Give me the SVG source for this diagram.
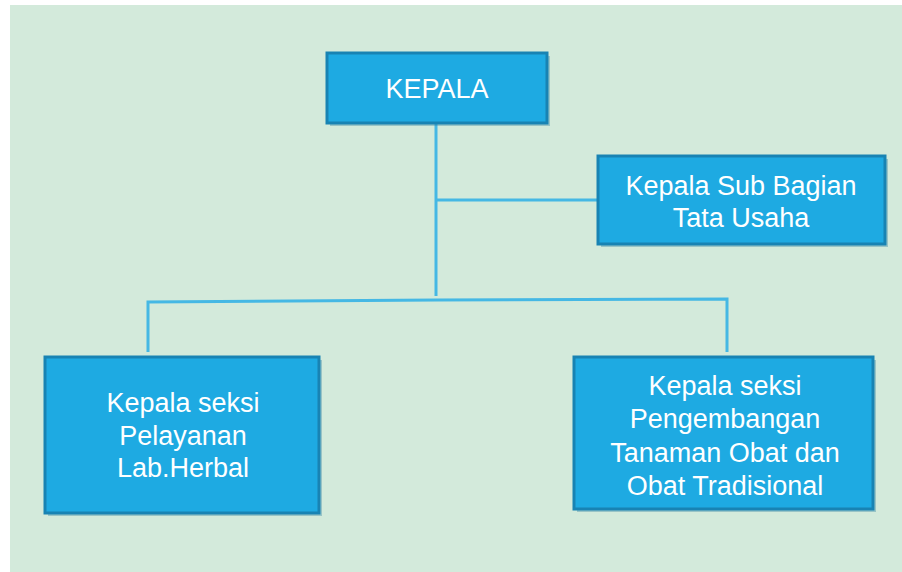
<svg xmlns="http://www.w3.org/2000/svg" width="902" height="572" viewBox="0 0 902 572">
<defs>
<style>
.box{fill:#1eaae2;stroke:#1883b3;stroke-width:3}
.shadow{fill:#2a7fa0;opacity:0.35}
.t{font-family:"Liberation Sans",Arial,sans-serif;font-size:27px;fill:#ffffff;text-anchor:middle}
.c{stroke:#45b8e4;stroke-width:3;fill:none}
</style>
</defs>
<rect x="0" y="0" width="902" height="572" fill="#ffffff"/>
<rect x="10" y="5" width="892" height="567" fill="#d3eadb"/>
<g id="connectors">
<line class="c" x1="436" y1="123" x2="436" y2="296"/>
<line class="c" x1="436" y1="200" x2="598" y2="200"/>
<polyline class="c" points="148,352 148,302 437,300 727,299 727,352"/>
</g>
<g id="kepala">
<rect class="shadow" x="330" y="56" width="220" height="70"/>
<rect class="box" x="327" y="53" width="220" height="70"/>
<text class="t" x="437" y="98" font-size="28">KEPALA</text>
</g>
<g id="subbagian">
<rect class="shadow" x="601" y="159" width="287" height="88"/>
<rect class="box" x="598" y="156" width="287" height="88"/>
<text class="t" x="741" y="195">Kepala Sub Bagian</text>
<text class="t" x="741" y="227">Tata Usaha</text>
</g>
<g id="seksi-pelayanan">
<rect class="shadow" x="48" y="360" width="274" height="156"/>
<rect class="box" x="45" y="357" width="274" height="156"/>
<text class="t" x="183" y="412">Kepala seksi</text>
<text class="t" x="183" y="445">Pelayanan</text>
<text class="t" x="183" y="477">Lab.Herbal</text>
</g>
<g id="seksi-pengembangan">
<rect class="shadow" x="577" y="360" width="299" height="152"/>
<rect class="box" x="574" y="357" width="299" height="152"/>
<text class="t" x="725" y="395">Kepala seksi</text>
<text class="t" x="725" y="428">Pengembangan</text>
<text class="t" x="725" y="462">Tanaman Obat dan</text>
<text class="t" x="725" y="495">Obat Tradisional</text>
</g>
</svg>
